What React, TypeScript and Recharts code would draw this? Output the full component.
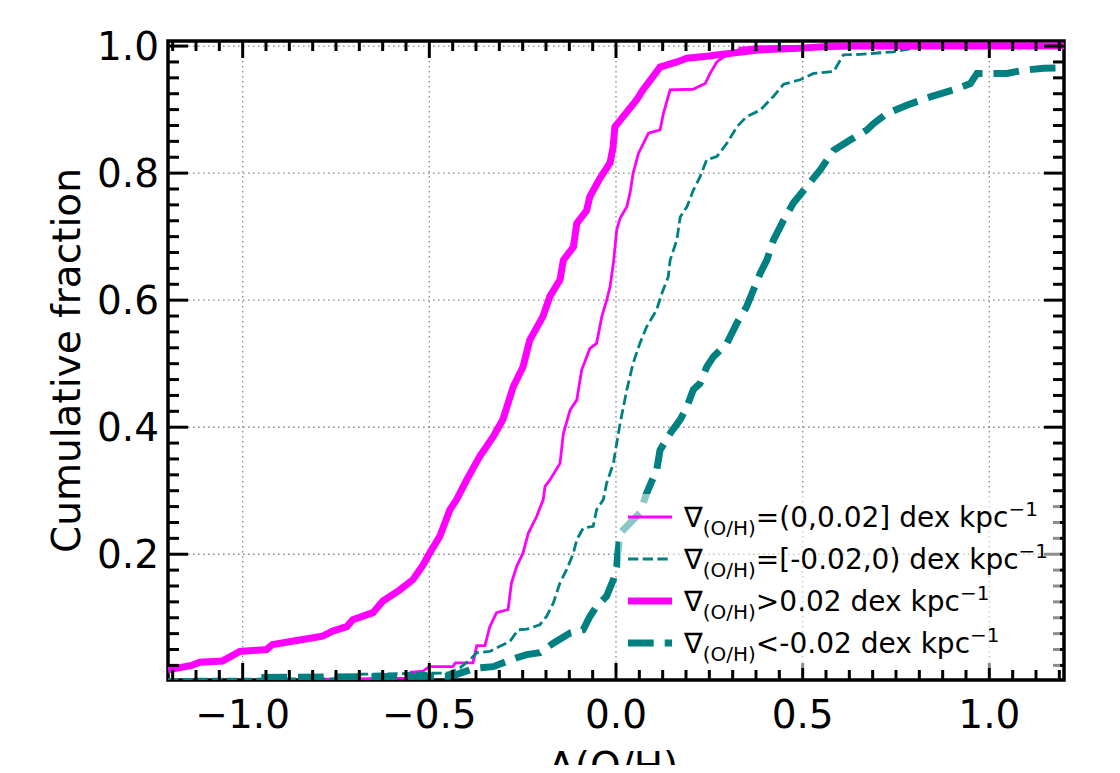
import React from 'react';
import { LineChart, Line, XAxis, YAxis, CartesianGrid, ReferenceArea, Legend } from 'recharts';

// cumulative distributions as [x, y] pairs
const posWeak: [number, number][] = [
  [-0.8, 0.003], [-0.56, 0.005], [-0.55, 0.014], [-0.517, 0.016], [-0.5, 0.023], [-0.437, 0.023],
  [-0.43, 0.029], [-0.383, 0.029], [-0.378, 0.042], [-0.373, 0.056], [-0.351, 0.056], [-0.338, 0.086],
  [-0.32, 0.108], [-0.289, 0.113], [-0.28, 0.155], [-0.266, 0.181], [-0.249, 0.202], [-0.235, 0.233],
  [-0.213, 0.259], [-0.195, 0.286], [-0.19, 0.307], [-0.177, 0.317], [-0.15, 0.343], [-0.141, 0.39],
  [-0.123, 0.427], [-0.105, 0.443], [-0.092, 0.49], [-0.07, 0.524], [-0.052, 0.532], [-0.038, 0.574],
  [-0.025, 0.6], [-0.016, 0.621], [-0.007, 0.658], [0.002, 0.711], [0.011, 0.729], [0.029, 0.747],
  [0.038, 0.77], [0.046, 0.8], [0.06, 0.831], [0.087, 0.863], [0.118, 0.868], [0.127, 0.894],
  [0.145, 0.931], [0.206, 0.932], [0.239, 0.941], [0.252, 0.957], [0.27, 0.975], [0.288, 0.983],
  [0.324, 0.991], [0.332, 0.997], [0.386, 0.999], [0.547, 1.0], [1.2, 1.0],
];

const negWeak: [number, number][] = [
  [-1.2, 0.003], [-0.72, 0.004], [-0.7, 0.011], [-0.45, 0.013], [-0.418, 0.021], [-0.391, 0.034],
  [-0.373, 0.045], [-0.338, 0.047], [-0.311, 0.055], [-0.284, 0.063], [-0.262, 0.081], [-0.239, 0.082],
  [-0.204, 0.089], [-0.186, 0.102], [-0.168, 0.123], [-0.15, 0.155], [-0.132, 0.176], [-0.114, 0.202],
  [-0.105, 0.223], [-0.088, 0.241], [-0.061, 0.244], [-0.052, 0.27], [-0.034, 0.286], [-0.025, 0.312],
  [-0.007, 0.343], [0.002, 0.375], [0.011, 0.406], [0.029, 0.459], [0.046, 0.501], [0.064, 0.532],
  [0.082, 0.558], [0.109, 0.585], [0.123, 0.611], [0.14, 0.637], [0.145, 0.663], [0.163, 0.695],
  [0.172, 0.731], [0.19, 0.747], [0.207, 0.773], [0.225, 0.794], [0.243, 0.821], [0.27, 0.826],
  [0.297, 0.847], [0.324, 0.873], [0.35, 0.889], [0.386, 0.899], [0.422, 0.921], [0.449, 0.94],
  [0.493, 0.947], [0.529, 0.957], [0.583, 0.96], [0.601, 0.978], [0.609, 0.986], [0.654, 0.987],
  [0.743, 0.991], [0.779, 0.995], [0.815, 0.998], [0.833, 1.0], [1.2, 1.0],
];

const posStrong: [number, number][] = [
  [-1.2, 0.018], [-1.137, 0.025], [-1.115, 0.03], [-1.054, 0.032], [-1.029, 0.04], [-1.008, 0.047],
  [-0.936, 0.05], [-0.92, 0.058], [-0.847, 0.065], [-0.786, 0.071], [-0.759, 0.079], [-0.721, 0.086],
  [-0.705, 0.097], [-0.651, 0.108], [-0.625, 0.126], [-0.579, 0.144], [-0.544, 0.16], [-0.517, 0.183],
  [-0.499, 0.202], [-0.472, 0.228], [-0.445, 0.27], [-0.427, 0.286], [-0.4, 0.317], [-0.365, 0.354],
  [-0.329, 0.385], [-0.303, 0.412], [-0.275, 0.464], [-0.249, 0.495], [-0.231, 0.537], [-0.196, 0.574],
  [-0.177, 0.606], [-0.15, 0.632], [-0.141, 0.663], [-0.114, 0.684], [-0.105, 0.721], [-0.079, 0.741],
  [-0.07, 0.763], [-0.043, 0.792], [-0.016, 0.816], [-0.008, 0.84], [-0.003, 0.873], [0.019, 0.889],
  [0.055, 0.915], [0.072, 0.931], [0.099, 0.952], [0.118, 0.967], [0.163, 0.975], [0.19, 0.981],
  [0.243, 0.984], [0.314, 0.989], [0.386, 0.994], [0.475, 0.996], [0.555, 0.999], [0.627, 1.0],
  [1.2, 1.0],
];

const negStrong: [number, number][] = [
  [-0.95, 0.006], [-0.45, 0.008], [-0.43, 0.01], [-0.391, 0.018], [-0.373, 0.021], [-0.329, 0.023],
  [-0.302, 0.029], [-0.266, 0.037], [-0.239, 0.042], [-0.204, 0.045], [-0.168, 0.06], [-0.123, 0.076],
  [-0.088, 0.081], [-0.07, 0.102], [-0.052, 0.118], [-0.025, 0.134], [-0.007, 0.16], [0.002, 0.181],
  [0.005, 0.202], [0.011, 0.233], [0.029, 0.244], [0.064, 0.265], [0.082, 0.296], [0.109, 0.333],
  [0.118, 0.364], [0.145, 0.39], [0.172, 0.412], [0.19, 0.432], [0.207, 0.459], [0.225, 0.469],
  [0.243, 0.495], [0.261, 0.511], [0.297, 0.532], [0.324, 0.564], [0.35, 0.59], [0.368, 0.616],
  [0.386, 0.642], [0.404, 0.663], [0.422, 0.695], [0.449, 0.726], [0.475, 0.753], [0.511, 0.779],
  [0.547, 0.805], [0.583, 0.836], [0.627, 0.852], [0.672, 0.868], [0.69, 0.878], [0.726, 0.894],
  [0.779, 0.907], [0.842, 0.92], [0.904, 0.931], [0.949, 0.941], [0.967, 0.957], [1.047, 0.957],
  [1.092, 0.962], [1.145, 0.965], [1.2, 0.966],
];

const majorX = [-1.0, -0.5, 0.0, 0.5, 1.0];
const majorY = [0.2, 0.4, 0.6, 0.8, 1.0];
const X_DOMAIN: [number, number] = [-1.2, 1.2];
const Y_DOMAIN: [number, number] = [0.002, 1.008];

// minor ticks every 1/16 on x, every 0.025 on y
const xTicks: number[] = [];
for (let i = -19; i <= 19; i++) xTicks.push(i * 0.0625);
const yTicks: number[] = [];
for (let i = 1; i <= 40; i++) yTicks.push(Math.round(i * 25) / 1000);

const MAGENTA = '#ff00ff';
const TEAL = '#008080';
const FONT = 'DejaVu Sans, sans-serif';

const PLOT_W = 896;
const PLOT_H = 639;

const toPts = (arr: [number, number][]) => arr.map(([x, y]) => ({ x, y }));

const fmt = (v: number) => (v < 0 ? '\u2212' : '') + Math.abs(v).toFixed(1);

const XTick = (props: any) => {
  const { x, y, payload } = props;
  const v = payload.value;
  const major = majorX.some((m) => Math.abs(m - v) < 1e-6);
  const len = major ? 17 : 10;
  return (
    <g>
      <line x1={x} y1={y} x2={x} y2={y - len} stroke="#000" strokeWidth={3} />
      <line x1={x} y1={y - PLOT_H} x2={x} y2={y - PLOT_H + len} stroke="#000" strokeWidth={3} />
      {major && (
        <text x={x} y={y + 48} textAnchor="middle" fontSize={39} fontFamily={FONT} fill="#000">
          {fmt(v)}
        </text>
      )}
    </g>
  );
};

const YTick = (props: any) => {
  const { x, y, payload } = props;
  const v = payload.value;
  const major = majorY.some((m) => Math.abs(m - v) < 1e-6);
  const len = major ? 20 : 11;
  return (
    <g>
      <line x1={x} y1={y} x2={x + len} y2={y} stroke="#000" strokeWidth={3} />
      <line x1={x + PLOT_W} y1={y} x2={x + PLOT_W - len} y2={y} stroke="#000" strokeWidth={3} />
      {major && (
        <text x={x - 9} y={y + 14} textAnchor="end" fontSize={39} fontFamily={FONT} fill="#000">
          {v.toFixed(1)}
        </text>
      )}
    </g>
  );
};

const legendItems = [
  { rest: '=(0,0.02] dex kpc', color: MAGENTA, width: 2.8, dash: undefined as string | undefined },
  { rest: '=[-0.02,0) dex kpc', color: TEAL, width: 2.8, dash: '10.3 4.4' },
  { rest: '>0.02 dex kpc', color: MAGENTA, width: 7, dash: undefined as string | undefined },
  { rest: '<-0.02 dex kpc', color: TEAL, width: 7, dash: '25.7 11' },
];

const LegendBox = () => (
  <div
    style={{
      background: 'rgba(255,255,255,0.55)',
      padding: '2px 0 4px 8px',
      fontFamily: FONT,
      fontSize: 28,
      color: '#000',
    }}
  >
    {legendItems.map((it, i) => (
      <div key={i} style={{ display: 'flex', alignItems: 'center', height: 42, whiteSpace: 'nowrap' }}>
        <svg width={44} height={14} style={{ marginRight: 12, flex: 'none' }}>
          <line x1={0} y1={7} x2={44} y2={7} stroke={it.color} strokeWidth={it.width} strokeDasharray={it.dash} />
        </svg>
        <span style={{ lineHeight: '28px', position: 'relative', top: 2 }}>
          ∇<span style={{ fontSize: 20, position: 'relative', top: 8 }}>(O/H)</span>
          {it.rest}
          <span style={{ fontSize: 20, position: 'relative', top: -11 }}>−1</span>
        </span>
      </div>
    ))}
  </div>
);

const YLabel = () => (
  <text
    transform="translate(72, 352.5) rotate(-90)"
    textAnchor="middle"
    fontSize={39}
    fontFamily={FONT}
    fill="#000"
  >
    Cumulative fraction
  </text>
);

const XLabel = () => (
  <text x={540} y={772} fontSize={39} fontFamily={FONT} fill="#000">
    Δ(O/H)
    <tspan fontSize={27} dy={8}>0</tspan>
  </text>
);

export default function App() {
  return (
    <div style={{ width: 1112, height: 765, marginBottom: -8 }}>
      <LineChart width={1112} height={765} margin={{ top: 33, right: 56, bottom: 33, left: 60 }}>
        <CartesianGrid
          horizontalValues={majorY}
          verticalValues={majorX}
          stroke="#8c8c8c"
          strokeWidth={1.4}
          strokeDasharray="1.6 3.4"
        />
        <XAxis
          dataKey="x"
          type="number"
          domain={X_DOMAIN}
          allowDataOverflow
          ticks={xTicks}
          interval={0}
          tick={<XTick />}
          tickLine={false}
          tickSize={0}
          tickMargin={0}
          axisLine={false}
          height={60}
          label={{ content: <XLabel /> }}
        />
        <YAxis
          type="number"
          domain={Y_DOMAIN}
          allowDataOverflow
          ticks={yTicks}
          interval={0}
          tick={<YTick />}
          tickLine={false}
          tickSize={0}
          tickMargin={0}
          axisLine={false}
          width={100}
          label={{ content: <YLabel /> }}
        />
        <Line data={toPts(posWeak)} dataKey="y" stroke={MAGENTA} strokeWidth={2.8} dot={false} isAnimationActive={false} />
        <Line data={toPts(negWeak)} dataKey="y" stroke={TEAL} strokeWidth={2.8} strokeDasharray="10.3 4.4" dot={false} isAnimationActive={false} />
        <Line data={toPts(posStrong)} dataKey="y" stroke={MAGENTA} strokeWidth={7} dot={false} isAnimationActive={false} />
        <Line data={toPts(negStrong)} dataKey="y" stroke={TEAL} strokeWidth={7} strokeDasharray="25.7 11" dot={false} isAnimationActive={false} />
        <ReferenceArea
          x1={X_DOMAIN[0]}
          x2={X_DOMAIN[1]}
          y1={Y_DOMAIN[0]}
          y2={Y_DOMAIN[1]}
          fill="none"
          stroke="#000"
          strokeWidth={3.5}
          ifOverflow="visible"
        />
        <Legend
          layout="vertical"
          align="center"
          verticalAlign="middle"
          content={<LegendBox />}
          wrapperStyle={{ left: 612, top: 486, width: 440, height: 176 }}
        />
      </LineChart>
    </div>
  );
}
